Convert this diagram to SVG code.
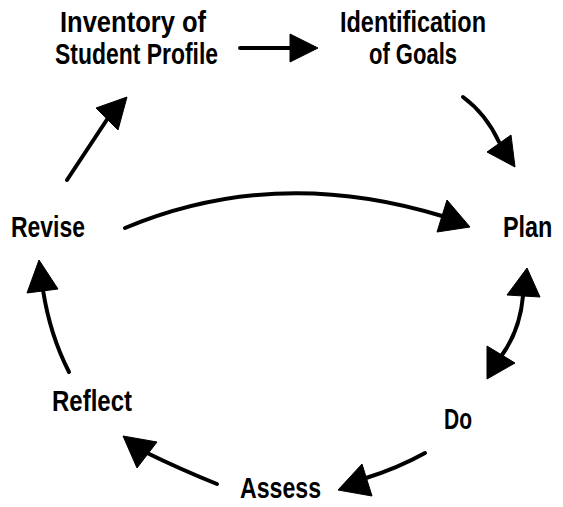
<svg xmlns="http://www.w3.org/2000/svg" width="563" height="507" viewBox="0 0 563 507">
<style>
.t{font-family:"Liberation Sans",Arial,sans-serif;font-weight:bold;font-size:30px;fill:#000}
.c{fill:none;stroke:#000;stroke-width:4;stroke-linecap:round}
.h{fill:#000;stroke:#000;stroke-width:1;stroke-linejoin:round}
</style>
<rect width="563" height="507" fill="#fff"/>
<g id="inventory"><text class="t" x="60" y="32" textLength="146" lengthAdjust="spacingAndGlyphs">Inventory of</text><text class="t" x="55" y="64" textLength="163" lengthAdjust="spacingAndGlyphs">Student Profile</text></g>
<g id="goals"><text class="t" x="340" y="32" textLength="146" lengthAdjust="spacingAndGlyphs">Identification</text><text class="t" x="369" y="64" textLength="88" lengthAdjust="spacingAndGlyphs">of Goals</text></g>
<g id="revise"><text class="t" x="11" y="237" textLength="74" lengthAdjust="spacingAndGlyphs">Revise</text></g>
<g id="plan"><text class="t" transform="translate(503 237) scale(0.78 1)" x="0" y="0">Plan</text></g>
<g id="reflect"><text class="t" x="52" y="411" textLength="80" lengthAdjust="spacingAndGlyphs">Reflect</text></g>
<g id="do"><text class="t" x="444" y="429" textLength="28" lengthAdjust="spacingAndGlyphs">Do</text></g>
<g id="assess"><text class="t" x="240" y="498" textLength="81" lengthAdjust="spacingAndGlyphs">Assess</text></g>
<g id="connectors">
<path class="c" d="M240 48 L292 48"/><polygon class="h" points="318,48 290,34 290,62"/>
<path class="c" d="M463 97 Q486 114 499 142"/><polygon class="h" points="515,167 487,152 511,135"/>
<path class="c" d="M125 228 Q275 165 442 216"/><polygon class="h" points="470,227 447,200 437,232"/>
<path class="c" d="M523 296 Q520 330 502 355"/><polygon class="h" points="527,268 507,295 540,297"/><polygon class="h" points="487,379 487,346 515,363"/>
<path class="c" d="M425 453 Q398 468 366 478"/><polygon class="h" points="338,490 362,464 372,496"/>
<path class="c" d="M217 484 Q182 470 145 452"/><polygon class="h" points="123,436 157,442 137,468"/>
<path class="c" d="M69 372 Q50 335 43 290"/><polygon class="h" points="39,260 27,293 58,289"/>
<path class="c" d="M67 180 L108 118"/><polygon class="h" points="127,97 96,108 118,130"/>
</g>
</svg>
